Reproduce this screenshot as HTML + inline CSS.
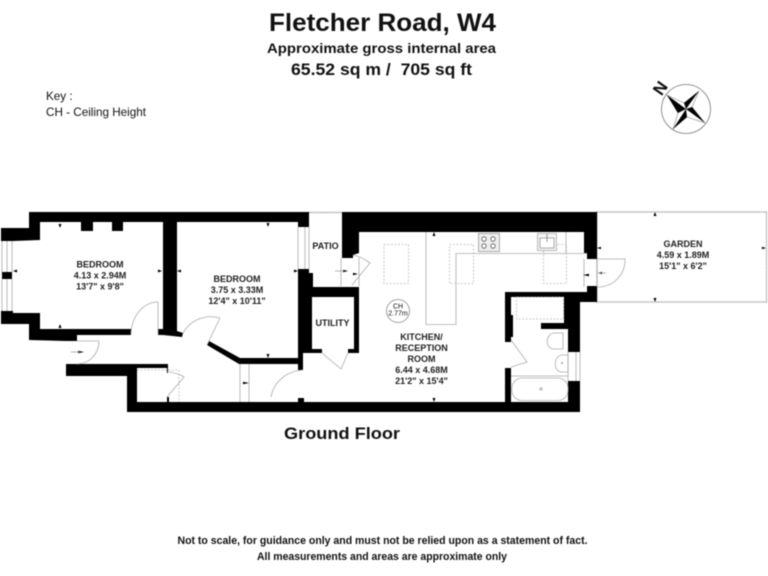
<!DOCTYPE html>
<html><head><meta charset="utf-8"><style>
html,body{margin:0;padding:0;background:#fff}
svg{display:block;filter:blur(.4px)}
text{font-family:"Liberation Sans",Arial,sans-serif;fill:#111}
.b{font-weight:bold}
.r{font-size:9px;text-anchor:middle;font-weight:bold;fill:#222}
.l{fill:none;stroke:#aaa;stroke-width:.8}
.d{fill:none;stroke:#bbb;stroke-width:.8;stroke-dasharray:2 1.5}
</style></head><body>
<svg width="768" height="576" viewBox="0 0 768 576" xmlns="http://www.w3.org/2000/svg">
<rect width="768" height="576" fill="#fff"/>
<text class="b" x="269" y="31" font-size="25" textLength="227" lengthAdjust="spacingAndGlyphs">Fletcher Road, W4</text>
<text class="b" x="267" y="53" font-size="14" textLength="229" lengthAdjust="spacingAndGlyphs">Approximate gross internal area</text>
<text class="b" x="291" y="75" font-size="17" textLength="181" lengthAdjust="spacingAndGlyphs" xml:space="preserve">65.52 sq m /  705 sq ft</text>
<text x="46" y="100" font-size="11.700" fill="#333">Key :</text>
<text x="46" y="116" font-size="11.700" fill="#333">CH - Ceiling Height</text>

<!-- compass -->
<circle cx="686" cy="109" r="24.500" fill="none" stroke="#777" stroke-width=".8"/>
<polygon points="667,95 684,103 699,91 692,107 705,123 687,117 673,129 678,113" fill="#fff" stroke="#666" stroke-width=".5"/>
<polygon points="667,95 678,113 686,109" fill="#000"/>
<polygon points="699,91 684,103 686,109" fill="#000"/>
<polygon points="705,123 692,107 686,109" fill="#000"/>
<polygon points="673,129 687,117 686,109" fill="#000"/>
<text class="b" font-size="17" text-anchor="middle" transform="translate(665,91.500) rotate(-55)" fill="#000">N</text>

<!-- garden + patio dotted -->
<rect x="597" y="212" width="169.500" height="90" fill="none" stroke="#999" stroke-width="1.400" stroke-dasharray="1 .8"/>
<path d="M309,212.500H342" stroke="#999" stroke-width="1.400" stroke-dasharray="1 .8" fill="none"/>

<!-- walls -->
<g fill="#000">
<polygon points="29,212 309,212 309,227 298,227 298,222 177,222 177,331 183,333 182,337 163,335 158,335 158,329 163,329 163,222 40,222 40,240 13,241 1,241 1,228 29,228"/>
<rect x="81" y="222" width="12" height="9"/>
<rect x="112" y="222" width="11" height="9"/>
<rect x="2" y="272" width="10" height="7"/>
<polygon points="1,311 13,311 13,313 40,313 40,329 131,329 131,335 77,335 77,341 66,341 29,340 29,324 1,324"/>
<polygon points="66,364 168,364 168,373 167,373 167,368 137,368 137,402 167,402 167,397 169,397 169,402 298,402 298,398 304,398 304,402 505,402 505,368 511,368 511,402 568,402 568,381 580,381 580,412 127,412 127,376 66,376"/>
<polygon points="207,345 209,341 240,358 298,358 298,269 309,269 309,273 313,273 313,287 359,287 359,353 348,353 348,349 354,349 354,297 312,297 312,349 322,349 322,353 303,353 303,370 298,370 298,364 239,364"/>
<polygon points="342,212 597,212 597,259 587,259 587,253 584,253 584,232 359,232 359,253 353,255 353,258 342,258"/>
<polygon points="587,286 597,286 597,302 580,302 580,352 568,352 568,329 541,329 541,323 564,323 564,297 511,297 511,315 513,315 513,337 511,337 511,342 505,342 505,292 587,292"/>
</g>

<!-- windows -->
<path d="M2,241V272M7,241V272M12,241V272M2,279V311M7,279V311M12,279V311M298,227V269M305,227V269M309,227V269M568,352V381M576,352V381M580,352V381" class="l"/>

<!-- door sills & hall lines -->
<path d="M240,364V402M249,364V402M341,258V286M359,258V286M584,259V287M597,259V287" class="l"/>
<path d="M137,370H179V402" class="d"/>

<!-- doors -->
<path d="M158,302V335M158,302A27,33 0 0 0 131,335" class="l"/>
<path d="M220,318L207,345M220,318A32,32 0 0 0 183,333" class="l"/>
<path d="M77,341H99M99,341A22,23 0 0 1 77,364" class="l"/>
<path d="M169,372Q178,373 184,377L167,397" class="l"/>
<path d="M303,370A34,32 0 0 0 271,397" class="l"/>
<path d="M352,285L370,263Q362,257 353,255" class="l"/>
<path d="M322,353L341,369L348,353" class="l"/>
<path d="M511,340L527,362L511,367" class="l"/>
<path d="M597,287A27,27 0 0 0 625,259H597" class="l"/>

<!-- kitchen -->
<path d="M426,232V324.500H456V253.500H587M566,232V253.500" class="l"/>
<rect x="384" y="244.500" width="24.500" height="39" class="d"/>
<rect x="449.500" y="244.500" width="24" height="39" class="d"/>
<rect x="543.500" y="244.500" width="23" height="39" class="d"/>
<rect x="478.500" y="233.500" width="21" height="18" fill="#eee" stroke="#999" stroke-width=".8"/>
<g fill="#fff" stroke="#555" stroke-width=".8">
<circle cx="484" cy="239" r="2.200"/><circle cx="493" cy="239" r="2.200"/><circle cx="484" cy="246" r="2.200"/><circle cx="493" cy="246" r="2.200"/>
</g>
<rect x="537.500" y="233.500" width="19" height="17" fill="#f4f4f4" stroke="#aaa" stroke-width=".8"/>
<rect x="540" y="238" width="14" height="10" fill="#fff" stroke="#888" stroke-width=".7"/>
<path d="M547,234V242" stroke="#777" stroke-width=".8"/>
<circle cx="398" cy="311" r="11.500" fill="#fff" stroke="#888" stroke-width=".8"/>
<text x="398" y="308.500" font-size="7" text-anchor="middle" fill="#333">CH</text>
<text x="398" y="315.500" font-size="7" text-anchor="middle" fill="#333">2.77m</text>

<!-- bathroom -->
<rect x="516.500" y="297" width="47" height="22" class="d"/>
<path d="M563,333V349H554C545,349 545,334 554,333Z" class="l"/>
<path d="M568,355V372H562C553,372 553,356 562,355Z" class="l"/>
<circle cx="562" cy="363" r="1" fill="#999"/>
<rect x="512" y="378" width="56" height="22.500" rx="10" fill="#fff" stroke="#aaa" stroke-width=".8"/>
<path d="M511,376H568" class="l"/>
<circle cx="541" cy="389" r="1.200" fill="none" stroke="#888" stroke-width=".6"/>

<!-- dimension ticks -->
<g fill="#000">
<path d="M60,228l-1.500,-4h3zM60,324l-1.500,4h3z"/>
<path d="M13,271l4,-1.500v3zM162,271l-4,-1.500v3z"/>
<path d="M177,271l4,-1.500v3zM298,271l-4,-1.500v3z"/>
<path d="M268,227l-1.500,-4h3zM268,358l-1.500,-4h3z"/>
<path d="M434,232l-1.500,4h3zM434,402l-1.500,-4h3z"/>
<path d="M84,352l-6,-1.200v2.400zM249,383l-6,-1.200v2.400z"/>
<path d="M348,271l-5,-1.200v2.400zM358,274l-5,1.200v-2.400z"/>
<path d="M583,275l6,-1.200v2.400zM598,273l4,-1.200v2.400z"/>
<path d="M655,212l-1.500,4h3zM655,302l-1.500,-4h3zM597,248l4,-1.200v2.400zM766,248l-4,-1.200v2.400z"/>
</g>
<path d="M71,352H80M335,271H344M598,273H606" stroke="#999" stroke-width=".7" fill="none"/>

<!-- room labels -->
<text class="r" x="100" y="267.500">BEDROOM</text>
<text class="r" x="100" y="278.500">4.13 x 2.94M</text>
<text class="r" x="100" y="289.500">13'7" x 9'8"</text>
<text class="r" x="237" y="282">BEDROOM</text>
<text class="r" x="237" y="293">3.75 x 3.33M</text>
<text class="r" x="237" y="304">12'4" x 10'11"</text>
<text class="r" x="325.500" y="249">PATIO</text>
<text class="r" x="332.500" y="326">UTILITY</text>
<text class="r" x="421.500" y="340">KITCHEN/</text>
<text class="r" x="421.500" y="351">RECEPTION</text>
<text class="r" x="421.500" y="362">ROOM</text>
<text class="r" x="421.500" y="373">6.44 x 4.68M</text>
<text class="r" x="421.500" y="384">21'2" x 15'4"</text>
<text class="r" x="683" y="247">GARDEN</text>
<text class="r" x="683" y="258">4.59 x 1.89M</text>
<text class="r" x="683" y="269">15'1" x 6'2"</text>

<text class="b" x="284" y="439" font-size="17" textLength="116" lengthAdjust="spacingAndGlyphs">Ground Floor</text>
<text class="b" x="177.500" y="544" font-size="11" textLength="410" lengthAdjust="spacingAndGlyphs">Not to scale, for guidance only and must not be relied upon as a statement of fact.</text>
<text class="b" x="257" y="560" font-size="11" textLength="250" lengthAdjust="spacingAndGlyphs">All measurements and areas are approximate only</text>
</svg>
</body></html>
